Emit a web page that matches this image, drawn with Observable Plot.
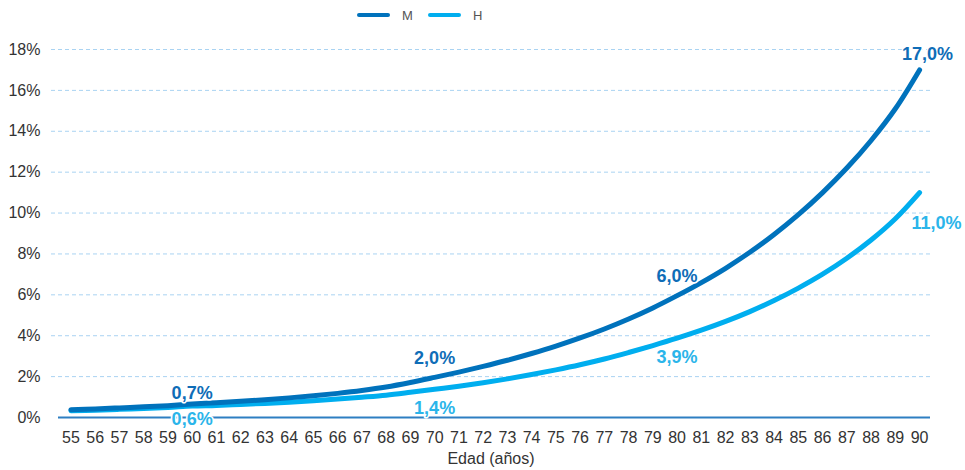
<!DOCTYPE html>
<html>
<head>
<meta charset="utf-8">
<script src="https://cdn.jsdelivr.net/npm/d3@7"></script>
<script src="https://cdn.jsdelivr.net/npm/@observablehq/plot@0.6"></script>
<style>
  html, body { margin: 0; padding: 0; background: #fff; }
  #legend { height: 30px; position: relative; font-family: "Liberation Sans", Arial, sans-serif; font-size: 13px; color: #555; }
  #legend .item { position: absolute; top: 0; height: 30px; display: flex; align-items: center; }
  #legend .sw { display: inline-block; width: 33px; height: 4px; border-radius: 2px; margin-right: 12px; }
</style>
</head>
<body>
<div id="legend"></div>
<div id="chart"></div>
<script>
const ages = [55,56,57,58,59,60,61,62,63,64,65,66,67,68,69,70,71,72,73,74,75,76,77,78,79,80,81,82,83,84,85,86,87,88,89,90];
const valuesM = [0.38,0.42,0.47,0.52,0.58,0.66,0.72,0.79,0.87,0.96,1.06,1.18,1.32,1.49,1.71,1.96,2.22,2.50,2.80,3.13,3.49,3.89,4.33,4.82,5.36,5.96,6.60,7.30,8.08,8.95,9.92,11.0,12.2,13.55,15.1,17.0];
const valuesH = [0.33,0.36,0.40,0.44,0.49,0.56,0.59,0.64,0.69,0.75,0.82,0.90,0.99,1.09,1.23,1.38,1.53,1.70,1.89,2.10,2.33,2.58,2.86,3.18,3.52,3.88,4.27,4.70,5.18,5.72,6.33,7.01,7.79,8.68,9.72,11.0];
const labelAges = [60, 70, 80];
const endAge = 90;
const yTicks = [0,2,4,6,8,10,12,14,16,18];
const seriesNames = ["M", "H"];
const colors = {M: "#0072bc", H: "#00aeef"};
const labelColors = {M: "#0f6db7", H: "#2bb5ea"};

const rowsM = ages.map((a, i) => ({age: a, value: valuesM[i], serie: "M"}));
const rowsH = ages.map((a, i) => ({age: a, value: valuesH[i], serie: "H"}));
const fmt = v => v.toFixed(1).replace(".", ",") + "%";

// legend
const legend = document.getElementById("legend");
const legendLeft = {M: 357, H: 428};
for (const s of seriesNames) {
  const it = document.createElement("div");
  it.className = "item";
  it.style.left = legendLeft[s] + "px";
  it.innerHTML = `<span class="sw" style="background:${colors[s]}"></span><span>${s}</span>`;
  legend.appendChild(it);
}

const labelStyle = {fontWeight: "bold", fontSize: 18, stroke: "#fff", strokeWidth: 3};
const first = d => d.age === labelAges[0];
const later = d => labelAges.slice(1).includes(d.age);

const chart = Plot.plot({
  width: 965,
  height: 440,
  marginTop: 19,
  marginBottom: 53,
  marginLeft: 51,
  marginRight: 35,
  style: {fontFamily: "'Liberation Sans', Arial, sans-serif", fontSize: "16px", color: "#333", background: "#fff"},
  x: {domain: [54.2, 90.45], ticks: ages, tickSize: 0, tickPadding: 14, tickFormat: d => String(d), label: null},
  y: {domain: [0, 18], ticks: yTicks, tickSize: 0, tickPadding: 11, tickFormat: d => d + "%", label: null},
  marks: [
    Plot.ruleY(yTicks.filter(d => d > 0), {stroke: "#a9d3f2", strokeDasharray: "4,3", strokeWidth: 1}),
    Plot.ruleY([0], {stroke: "#2e7fc2", strokeWidth: 2, insetLeft: 7}),
    Plot.line(rowsH, {x: "age", y: "value", stroke: colors.H, strokeWidth: 5, curve: "catmull-rom", strokeLinecap: "round"}),
    Plot.line(rowsM, {x: "age", y: "value", stroke: colors.M, strokeWidth: 5, curve: "catmull-rom", strokeLinecap: "round"}),
    Plot.text(rowsM.filter(first), {x: "age", y: "value", text: d => fmt(d.value), dy: -11, fill: labelColors.M, ...labelStyle}),
    Plot.text(rowsM.filter(later), {x: "age", y: "value", text: d => fmt(d.value), dy: -19, fill: labelColors.M, ...labelStyle}),
    Plot.text(rowsH.filter(first), {x: "age", y: "value", text: d => fmt(d.value), dy: 13, fill: labelColors.H, ...labelStyle}),
    Plot.text(rowsH.filter(later), {x: "age", y: "value", text: d => fmt(d.value), dy: 19, fill: labelColors.H, ...labelStyle}),
    Plot.text(rowsM.filter(d => d.age === endAge), {x: "age", y: "value", text: d => fmt(d.value), dy: -16, dx: 8, fill: labelColors.M, ...labelStyle}),
    Plot.text(rowsH.filter(d => d.age === endAge), {x: "age", y: "value", text: d => fmt(d.value), dy: 31, dx: 17, fill: labelColors.H, ...labelStyle}),
    Plot.text(["Edad (años)"], {frameAnchor: "bottom", dy: 46, fontSize: 16, fill: "#333"})
  ]
});
document.getElementById("chart").appendChild(chart);
</script>
</body>
</html>
